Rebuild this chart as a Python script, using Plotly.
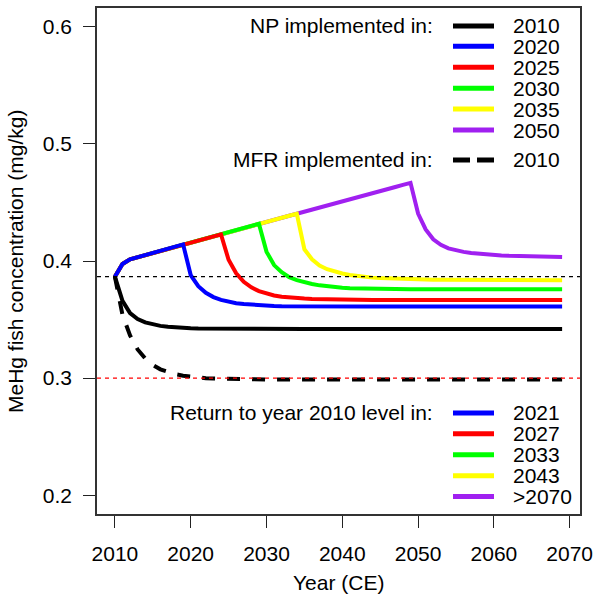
import plotly.graph_objects as go

# years simulated (annual)
years = list(range(2010, 2070))

# fish MeHg (mg/kg) with no policy, rising, 2010-2049
trunk = [0.3866, 0.3975, 0.4014, 0.4032, 0.4050, 0.4068, 0.4087, 0.4105, 0.4123, 0.4142,
         0.4159, 0.4176, 0.4193, 0.4210, 0.4227, 0.4245, 0.4263, 0.4281, 0.4300, 0.4318,
         0.4335, 0.4352, 0.4369, 0.4386, 0.4403, 0.4420, 0.4438, 0.4455, 0.4473, 0.4490,
         0.4508, 0.4525, 0.4543, 0.4560, 0.4578, 0.4596, 0.4614, 0.4632, 0.4650, 0.4667]

# decline after the policy starts (first value = year of implementation)
np2020_after = [0.3880, 0.3785, 0.3728, 0.3692, 0.3668, 0.3652, 0.3640, 0.3632, 0.3626, 0.3621,
                0.3618, 0.3616, 0.3614, 0.3613, 0.3612, 0.3611, 0.3611, 0.3611, 0.3611, 0.3611,
                0.3611, 0.3611, 0.3611, 0.3611, 0.3611, 0.3611, 0.3611, 0.3611, 0.3611, 0.3611,
                0.3611, 0.3611, 0.3611, 0.3611, 0.3611, 0.3611, 0.3611, 0.3611, 0.3611, 0.3611,
                0.3611, 0.3611, 0.3611, 0.3611, 0.3611, 0.3611, 0.3611, 0.3611, 0.3611, 0.3611]
np2025_after = [0.4010, 0.3895, 0.3822, 0.3775, 0.3743, 0.3721, 0.3706, 0.3695, 0.3688, 0.3683,
                0.3679, 0.3676, 0.3674, 0.3672, 0.3671, 0.3670, 0.3669, 0.3668, 0.3668, 0.3668,
                0.3668, 0.3668, 0.3668, 0.3668, 0.3668, 0.3668, 0.3668, 0.3668, 0.3668, 0.3668,
                0.3668, 0.3668, 0.3668, 0.3668, 0.3668, 0.3668, 0.3668, 0.3668, 0.3668, 0.3668,
                0.3668, 0.3668, 0.3668, 0.3668, 0.3668]
np2030_after = [0.4080, 0.3965, 0.3905, 0.3862, 0.3836, 0.3818, 0.3804, 0.3792, 0.3783, 0.3777,
                0.3772, 0.3768, 0.3766, 0.3764, 0.3763, 0.3762, 0.3761, 0.3760, 0.3759, 0.3759,
                0.3759, 0.3759, 0.3759, 0.3759, 0.3759, 0.3759, 0.3759, 0.3759, 0.3759, 0.3759,
                0.3759, 0.3759, 0.3759, 0.3759, 0.3759, 0.3759, 0.3759, 0.3759, 0.3759, 0.3759]
np2035_after = [0.4100, 0.4015, 0.3962, 0.3930, 0.3908, 0.3893, 0.3881, 0.3871, 0.3864, 0.3858,
                0.3854, 0.3851, 0.3848, 0.3846, 0.3844, 0.3842, 0.3841, 0.3840, 0.3839, 0.3839,
                0.3838, 0.3838, 0.3837, 0.3837, 0.3837, 0.3836, 0.3836, 0.3836, 0.3836, 0.3836,
                0.3836, 0.3836, 0.3836, 0.3836, 0.3836]
np2050_after = [0.4405, 0.4270, 0.4185, 0.4138, 0.4108, 0.4090, 0.4078, 0.4068, 0.4061, 0.4055,
                0.4050, 0.4047, 0.4044, 0.4042, 0.4040, 0.4039, 0.4037, 0.4036, 0.4035, 0.4034]

np2010 = [0.3866, 0.3660, 0.3555, 0.3505, 0.3476, 0.3458, 0.3446, 0.3438, 0.3432, 0.3428,
          0.3426, 0.3424, 0.3423, 0.3422, 0.3421, 0.3421, 0.3420, 0.3420, 0.3420, 0.3420,
          0.3419, 0.3419, 0.3419, 0.3419, 0.3419, 0.3419, 0.3419, 0.3419, 0.3419, 0.3419,
          0.3419, 0.3419, 0.3419, 0.3419, 0.3419, 0.3419, 0.3419, 0.3419, 0.3419, 0.3419,
          0.3419, 0.3419, 0.3419, 0.3419, 0.3419, 0.3419, 0.3419, 0.3419, 0.3419, 0.3419,
          0.3419, 0.3419, 0.3419, 0.3419, 0.3419, 0.3419, 0.3419, 0.3419, 0.3419, 0.3419]
mfr2010 = [0.3866, 0.3540, 0.3365, 0.3245, 0.3168, 0.3113, 0.3075, 0.3050, 0.3033, 0.3021,
           0.3012, 0.3005, 0.3000, 0.2997, 0.2995, 0.2993, 0.2992, 0.2991, 0.2990, 0.2989,
           0.2989, 0.2988, 0.2988, 0.2988, 0.2988, 0.2988, 0.2988, 0.2988, 0.2988, 0.2988,
           0.2988, 0.2988, 0.2988, 0.2988, 0.2988, 0.2988, 0.2988, 0.2988, 0.2988, 0.2988,
           0.2988, 0.2988, 0.2988, 0.2988, 0.2988, 0.2988, 0.2988, 0.2988, 0.2988, 0.2988,
           0.2988, 0.2988, 0.2988, 0.2988, 0.2988, 0.2988, 0.2988, 0.2988, 0.2988, 0.2988]

level_2010 = 0.3866
mfr_level = 0.3

np_labels = ["2010", "2020", "2025", "2030", "2035", "2050"]
np_colors = ["black", "#0000FF", "#FF0000", "#00FF00", "#FFFF00", "#A020F0"]
mfr_label = "2010"
return_labels = ["2021", "2027", "2033", "2043", ">2070"]
return_colors = ["#0000FF", "#FF0000", "#00FF00", "#FFFF00", "#A020F0"]

FONT = "Liberation Sans, Arial, Helvetica, sans-serif"

# plot area in pixels, used for placing the hand-made legends
PL, PT, PW, PH = 97, 6, 483, 508


def px(x, y):
    return (x - PL) / PW, (PT + PH - y) / PH


fig = go.Figure()

# later scenarios drawn first so earlier ones sit on top of the shared rise
scen = [
    (2050, np2050_after, "#A020F0"),
    (2035, np2035_after, "#FFFF00"),
    (2030, np2030_after, "#00FF00"),
    (2025, np2025_after, "#FF0000"),
    (2020, np2020_after, "#0000FF"),
]
for start, after, col in scen:
    k = start - 2010
    fig.add_trace(go.Scatter(x=years, y=trunk[:k] + after, mode="lines",
                             line=dict(color=col, width=4), showlegend=False))

fig.add_trace(go.Scatter(x=years, y=np2010, mode="lines",
                         line=dict(color="black", width=4), showlegend=False))
fig.add_trace(go.Scatter(x=years, y=mfr2010, mode="lines",
                         line=dict(color="black", width=4, dash="13px,12px"), showlegend=False))

shapes = []
annots = []
txt_font = dict(family=FONT, size=21, color="black")

# top legend: NP scenarios
top_rows = [24, 44.5, 65.5, 86.5, 107.5, 128.5]
x_title_end = 435
x_l0, x_l1 = 453, 494
x_lab = 511
for i, (lab, col) in enumerate(zip(np_labels, np_colors)):
    x0, yy = px(x_l0, top_rows[i])
    x1, _ = px(x_l1, top_rows[i])
    shapes.append(dict(type="line", xref="paper", yref="paper", x0=x0, x1=x1, y0=yy, y1=yy,
                       line=dict(color=col, width=5)))
    xl, _ = px(x_lab, top_rows[i])
    annots.append(dict(x=xl, y=yy, xref="paper", yref="paper", text=lab, showarrow=False,
                       xanchor="left", yanchor="middle", font=txt_font))
xt, yt = px(x_title_end, top_rows[0])
annots.append(dict(x=xt, y=yt, xref="paper", yref="paper", text="NP implemented in:",
                   showarrow=False, xanchor="right", yanchor="middle", font=txt_font))

# MFR row
mfr_row = 158.5
x0, yy = px(x_l0, mfr_row)
x1, _ = px(x_l1, mfr_row)
shapes.append(dict(type="line", xref="paper", yref="paper", x0=x0, x1=x1, y0=yy, y1=yy,
                   line=dict(color="black", width=5, dash="17px,7px")))
xl, _ = px(x_lab, mfr_row)
annots.append(dict(x=xl, y=yy, xref="paper", yref="paper", text=mfr_label, showarrow=False,
                   xanchor="left", yanchor="middle", font=txt_font))
annots.append(dict(x=xt, y=yy, xref="paper", yref="paper", text="MFR implemented in:",
                   showarrow=False, xanchor="right", yanchor="middle", font=txt_font))

# bottom legend: return to 2010 level
bot_rows = [412.5, 433.5, 454.5, 475.5, 496.5]
for i, (lab, col) in enumerate(zip(return_labels, return_colors)):
    x0, yy = px(x_l0, bot_rows[i])
    x1, _ = px(x_l1, bot_rows[i])
    shapes.append(dict(type="line", xref="paper", yref="paper", x0=x0, x1=x1, y0=yy, y1=yy,
                       line=dict(color=col, width=5)))
    xl, _ = px(x_lab, bot_rows[i])
    annots.append(dict(x=xl, y=yy, xref="paper", yref="paper", text=lab, showarrow=False,
                       xanchor="left", yanchor="middle", font=txt_font))
xt, yt = px(x_title_end, bot_rows[0])
annots.append(dict(x=xt, y=yt, xref="paper", yref="paper", text="Return to year 2010 level in:",
                   showarrow=False, xanchor="right", yanchor="middle", font=txt_font))

# axis titles
ax_, ay_ = px(16, 261)
annots.append(dict(x=ax_, y=ay_, xref="paper", yref="paper", text="MeHg fish concentration (mg/kg)",
                   showarrow=False, textangle=-90, xanchor="center", yanchor="middle", font=txt_font))
bx_, by_ = px(338.5, 583)
annots.append(dict(x=bx_, y=by_, xref="paper", yref="paper", text="Year (CE)",
                   showarrow=False, xanchor="center", yanchor="middle", font=txt_font))

fig.update_layout(
    width=600, height=602,
    margin=dict(l=PL, r=600 - PL - PW, t=PT, b=602 - PT - PH),
    plot_bgcolor="white", paper_bgcolor="white",
    font=txt_font,
    shapes=shapes, annotations=annots,
    showlegend=False,
)

# dashed reference levels across the whole panel, drawn over the curves
fig.add_hline(y=level_2010, line=dict(color="black", width=1.2, dash="4px,4px"))
fig.add_hline(y=mfr_level, line=dict(color="#FF0000", width=1.2, dash="4px,4px"))

fig.update_xaxes(range=[2007.64, 2071.36], tickvals=[2010, 2020, 2030, 2040, 2050, 2060, 2070],
                 ticks="outside", ticklen=12, tickwidth=1.3, tickcolor="#222",
                 showline=True, mirror=True, linecolor="#333", linewidth=1.5,
                 showgrid=False, zeroline=False, ticklabelstandoff=8,
                 tickfont=txt_font)
fig.update_yaxes(range=[0.184, 0.616], tickvals=[0.2, 0.3, 0.4, 0.5, 0.6],
                 ticktext=["0.2", "0.3", "0.4", "0.5", "0.6"],
                 ticks="outside", ticklen=12, tickwidth=1.3, tickcolor="#222",
                 showline=True, mirror=True, linecolor="#333", linewidth=1.5,
                 showgrid=False, zeroline=False, ticklabelstandoff=7,
                 tickfont=txt_font)

# page body has a default 8px margin; remove it so the figure sits at the corner
fig.write_html("out.html", config={"displayModeBar": False},
               post_script="document.body.style.margin='0';")
